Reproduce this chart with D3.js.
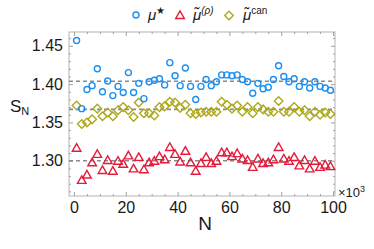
<!DOCTYPE html>
<html>
<head>
<meta charset="utf-8">
<title>S_N vs N</title>
<style>
  body { margin: 0; background: #fff; }
  svg text { font-family: "Liberation Sans", Arial, sans-serif; fill: #1a1a1a; }
</style>
<script src="https://d3js.org/d3.v7.min.js"></script>
</head>
<body>
<div id="chart"></div>
<script>
// N values (x10^3): 1, 3, 5, ... 99
var nValues = d3.range(1, 100, 2);

// mu star (blue circles)
var muStar = [1.457, 1.368, 1.393, 1.398, 1.420, 1.390, 1.404, 1.385, 1.397, 1.389,
              1.415, 1.389, 1.401, 1.381, 1.403, 1.405, 1.407, 1.399, 1.428, 1.411,
              1.398, 1.421, 1.397, 1.380, 1.397, 1.406, 1.398, 1.403, 1.412, 1.412,
              1.411, 1.412, 1.406, 1.403, 1.388, 1.401, 1.394, 1.396, 1.406, 1.424,
              1.410, 1.403, 1.407, 1.397, 1.403, 1.395, 1.403, 1.397, 1.395, 1.392];

// mu tilde (rho) (red triangles)
var muRho = [1.317, 1.275, 1.282, 1.298, 1.309, 1.288, 1.301, 1.287, 1.300, 1.296,
             1.307, 1.290, 1.305, 1.289, 1.298, 1.300, 1.306, 1.302, 1.318, 1.309,
             1.299, 1.313, 1.298, 1.287, 1.297, 1.305, 1.297, 1.300, 1.311, 1.311,
             1.306, 1.310, 1.303, 1.301, 1.292, 1.303, 1.297, 1.298, 1.302, 1.318,
             1.303, 1.300, 1.305, 1.294, 1.301, 1.290, 1.300, 1.292, 1.295, 1.293];

// mu tilde can (olive diamonds)
var muCan = [1.372, 1.348, 1.350, 1.354, 1.368, 1.358, 1.363, 1.358, 1.366, 1.370,
             1.366, 1.357, 1.376, 1.362, 1.362, 1.359, 1.370, 1.371, 1.377, 1.376,
             1.369, 1.373, 1.362, 1.361, 1.363, 1.364, 1.364, 1.364, 1.377, 1.373,
             1.368, 1.372, 1.364, 1.370, 1.362, 1.370, 1.367, 1.364, 1.364, 1.378,
             1.364, 1.364, 1.370, 1.364, 1.366, 1.358, 1.364, 1.360, 1.363, 1.361];

// reference (dashed) levels
var refLevels = [1.4037, 1.367, 1.300];

var xTicks = [0, 20, 40, 60, 80, 100];
var yTicks = [1.30, 1.35, 1.40, 1.45];

var W = 374, H = 249;
var pLeft = 69, pRight = 335, pTop = 32, pBottom = 196;

var blue = "#1e8ff0", red = "#e51b3b", olive = "#aea91c";

var svg = d3.select("#chart").append("svg")
  .attr("width", W).attr("height", H);

var x = d3.scaleLinear().domain([-1.93, 100.77]).range([pLeft, pRight]);
var y = d3.scaleLinear().domain([1.254, 1.468]).range([pBottom, pTop]);

// frame
svg.append("rect")
  .attr("x", pLeft).attr("y", pTop)
  .attr("width", pRight - pLeft).attr("height", pBottom - pTop)
  .attr("fill", "none").attr("stroke", "#b4b4b4").attr("stroke-width", 1);

var xMinor = d3.range(0, 101, 5).filter(function(d){ return d % 20 != 0; });
var yMinor = d3.range(1.26, 1.466, 0.01).filter(function(d){
  return Math.abs(d * 20 - Math.round(d * 20)) > 0.01; });

function tickStyle(g) {
  g.select(".domain").remove();
  g.selectAll(".tick line").attr("stroke", "#a0a0a0");
}

// bottom axis
svg.append("g").attr("transform", "translate(0," + pBottom + ")")
  .call(d3.axisBottom(x).tickValues(xTicks).tickSize(-4).tickPadding(6).tickFormat(d3.format("d")))
  .call(tickStyle)
  .selectAll("text").attr("font-size", 16).attr("fill", "#1a1a1a");
svg.append("g").attr("transform", "translate(0," + pBottom + ")")
  .call(d3.axisBottom(x).tickValues(xMinor).tickSize(-2).tickFormat(""))
  .call(tickStyle);
// top axis
svg.append("g").attr("transform", "translate(0," + pTop + ")")
  .call(d3.axisTop(x).tickValues(xTicks).tickSize(-4).tickFormat(""))
  .call(tickStyle);
svg.append("g").attr("transform", "translate(0," + pTop + ")")
  .call(d3.axisTop(x).tickValues(xMinor).tickSize(-2).tickFormat(""))
  .call(tickStyle);

// left axis
svg.append("g").attr("transform", "translate(" + pLeft + ",0)")
  .call(d3.axisLeft(y).tickValues(yTicks).tickSize(-4).tickPadding(6).tickFormat(d3.format(".2f")))
  .call(tickStyle)
  .selectAll("text").attr("font-size", 16).attr("fill", "#1a1a1a");
svg.append("g").attr("transform", "translate(" + pLeft + ",0)")
  .call(d3.axisLeft(y).tickValues(yMinor).tickSize(-2).tickFormat(""))
  .call(tickStyle);
// right axis
svg.append("g").attr("transform", "translate(" + pRight + ",0)")
  .call(d3.axisRight(y).tickValues(yTicks).tickSize(-4).tickFormat(""))
  .call(tickStyle);
svg.append("g").attr("transform", "translate(" + pRight + ",0)")
  .call(d3.axisRight(y).tickValues(yMinor).tickSize(-2).tickFormat(""))
  .call(tickStyle);

// dashed reference lines
svg.selectAll(".ref").data(refLevels).enter().append("line")
  .attr("x1", pLeft).attr("x2", pRight)
  .attr("y1", function(d){ return y(d); })
  .attr("y2", function(d){ return y(d); })
  .attr("stroke", "#8a8a8a").attr("stroke-width", 1.6)
  .attr("stroke-dasharray", "4,3");

var triPath = "M0,-4.6L4.3,3L-4.3,3Z";
var diaPath = "M0,-4.3L4.3,0L0,4.3L-4.3,0Z";

// diamonds
svg.selectAll(".can").data(muCan).enter().append("path")
  .attr("d", diaPath)
  .attr("transform", function(d, i){ return "translate(" + x(nValues[i]) + "," + y(d) + ")"; })
  .attr("fill", "none").attr("stroke", olive).attr("stroke-width", 1.4);

// triangles
svg.selectAll(".rho").data(muRho).enter().append("path")
  .attr("d", triPath)
  .attr("transform", function(d, i){ return "translate(" + x(nValues[i]) + "," + (y(d) + 0.5) + ")"; })
  .attr("fill", "none").attr("stroke", red).attr("stroke-width", 1.4);

// circles
svg.selectAll(".star").data(muStar).enter().append("circle")
  .attr("cx", function(d, i){ return x(nValues[i]); })
  .attr("cy", function(d){ return y(d); })
  .attr("r", 3)
  .attr("fill", "none").attr("stroke", blue).attr("stroke-width", 1.4);

// axis titles
svg.append("text").attr("x", 205).attr("y", 230)
  .attr("text-anchor", "middle").attr("font-size", 19).text("N");

var sLab = svg.append("text").attr("x", 10).attr("y", 112).attr("font-size", 17);
sLab.append("tspan").text("S");
sLab.append("tspan").attr("font-size", 11).attr("dy", 3).text("N");

var xe = svg.append("text").attr("x", 338).attr("y", 197).attr("font-size", 13);
xe.append("tspan").text("×10");
xe.append("tspan").attr("font-size", 9).attr("dy", -5).text("3");

// legend
svg.append("circle").attr("cx", 136).attr("cy", 15).attr("r", 3)
  .attr("fill", "none").attr("stroke", blue).attr("stroke-width", 1.4);
var l1 = svg.append("text").attr("x", 148).attr("y", 20).attr("font-size", 15);
l1.append("tspan").attr("font-style", "italic").text("μ");
l1.append("tspan").attr("font-size", 10).attr("dy", -6).text("★");

svg.append("path").attr("d", triPath).attr("transform", "translate(180,15.5)")
  .attr("fill", "none").attr("stroke", red).attr("stroke-width", 1.4);
var l2 = svg.append("text").attr("x", 193).attr("y", 20).attr("font-size", 15);
l2.append("tspan").attr("font-style", "italic").text("μ\u0303");
l2.append("tspan").attr("font-size", 10).attr("dy", -6).attr("font-style", "italic").text("(ρ)");

svg.append("path").attr("d", diaPath).attr("transform", "translate(229,15.5)")
  .attr("fill", "none").attr("stroke", olive).attr("stroke-width", 1.4);
var l3 = svg.append("text").attr("x", 243).attr("y", 20).attr("font-size", 15);
l3.append("tspan").attr("font-style", "italic").text("μ\u0303");
l3.append("tspan").attr("font-size", 10).attr("dy", -6).text("can");
</script>
</body>
</html>
